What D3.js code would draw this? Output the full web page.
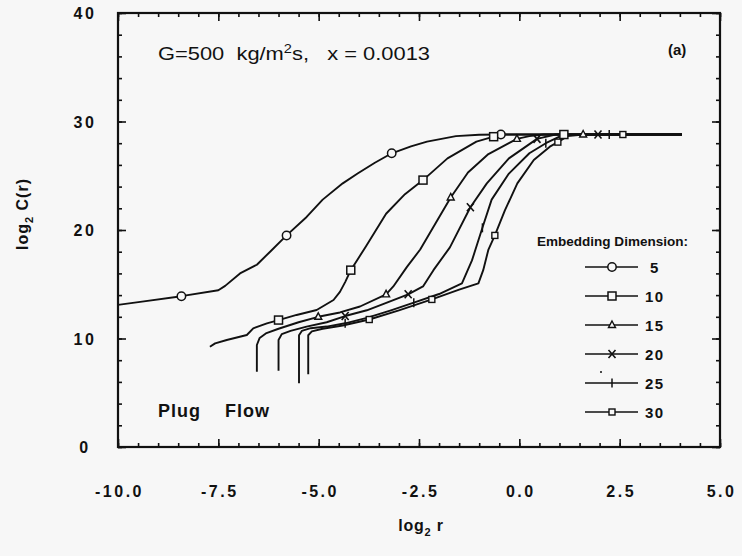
<!DOCTYPE html>
<html><head><meta charset="utf-8">
<script src="https://cdn.jsdelivr.net/npm/d3@7"></script>
<style>
html,body{margin:0;padding:0;background:#f7f7f7;}
svg{display:block;font-family:"Liberation Sans",Arial,Helvetica,sans-serif;}
</style></head><body>
<svg id="c" width="742" height="556"></svg>
<script>
// ---- data ----
const xMajorTicks = [-10, -7.5, -5, -2.5, 0, 2.5, 5];
const xTickLabels = ["-10.0", "-7.5", "-5.0", "-2.5", "0.0", "2.5", "5.0"];
const yMajorTicks = [0, 10, 20, 30, 40];
const yTickLabels = ["0", "10", "20", "30", "40"];
const xMinorTicks = d3.range(-10, 5.01, 0.5);
const yMinorTicks = d3.range(0, 40.01, 2);

const dimensions = ["5", "10", "15", "20", "25", "30"];
const markerTypes = ["circle", "square", "triangle", "x", "plus", "smallsq"];

const curve5 = [[-10,13.1],[-9.4,13.4],[-8.42,13.9],[-7.5,14.45],[-7.33,14.85],[-6.96,16.0],[-6.54,16.8],[-6.21,18.0],[-5.8,19.5],[-5.3,21.2],[-4.9,22.8],[-4.4,24.3],[-4.03,25.2],[-3.6,26.2],[-3.18,27.07],[-2.7,27.7],[-2.3,28.14],[-1.58,28.65],[-1.0,28.78],[-0.46,28.8],[4.05,28.8]];
const curve10 = [[-7.71,9.24],[-7.58,9.55],[-7.29,9.86],[-6.79,10.32],[-6.63,10.94],[-6.29,11.4],[-6.0,11.7],[-5.55,12.17],[-5.05,12.63],[-4.63,13.55],[-4.47,14.3],[-4.34,15.2],[-4.2,16.3],[-3.82,18.5],[-3.32,21.5],[-2.85,23.3],[-2.4,24.6],[-1.79,26.6],[-1.07,28.14],[-0.64,28.6],[-0.36,28.8],[4.05,28.8]];
const curve15 = [[-6.54,6.93],[-6.54,9.4],[-6.47,10.05],[-6.3,10.5],[-6.0,10.9],[-5.5,11.5],[-5.01,12.0],[-4.47,12.4],[-3.97,12.95],[-3.32,14.07],[-3.14,14.8],[-2.8,16.6],[-2.47,18.2],[-2.2,19.9],[-1.71,23.0],[-1.28,25.3],[-0.77,27.0],[-0.26,28.0],[-0.06,28.4],[0.25,28.65],[0.6,28.8],[4.05,28.8]];
const curve20 = [[-6.0,7.03],[-6.0,9.86],[-5.92,10.4],[-5.7,10.7],[-5.3,11.1],[-4.8,11.5],[-4.34,12.07],[-3.8,12.6],[-3.3,13.3],[-2.77,14.07],[-2.4,14.8],[-2.14,16.3],[-1.73,18.4],[-1.22,22.1],[-0.81,24.3],[-0.26,26.6],[0.44,28.4],[0.9,28.8],[4.05,28.8]];
const curve25 = [[-5.49,5.87],[-5.49,10.3],[-5.42,10.7],[-5.2,10.95],[-4.8,11.1],[-4.34,11.4],[-3.8,11.9],[-3.2,12.6],[-2.63,13.3],[-2.0,14.1],[-1.43,15.08],[-1.18,17.2],[-0.92,20.2],[-0.69,22.8],[-0.26,25.2],[0.25,27.07],[0.66,28.0],[1.0,28.6],[1.3,28.8],[4.05,28.8]];
const curve30 = [[-5.26,6.7],[-5.26,10.3],[-5.17,10.65],[-4.9,10.9],[-4.4,11.2],[-3.74,11.75],[-3.0,12.6],[-2.18,13.6],[-1.5,14.5],[-1.02,15.08],[-0.9,16.3],[-0.77,18.2],[-0.61,19.5],[-0.36,21.8],[-0.05,24.3],[0.36,26.45],[0.76,27.68],[0.96,28.1],[1.2,28.65],[1.6,28.8],[4.05,28.8]];

const markers5 = [[-8.42,13.9],[-5.8,19.5],[-3.18,27.07],[-0.46,28.8]];
const markers10 = [[-6.0,11.7],[-4.2,16.3],[-2.4,24.6],[-0.64,28.6],[1.11,28.8]];
const markers15 = [[-5.01,12.0],[-3.32,14.07],[-1.71,23.0],[-0.06,28.4],[1.59,28.8]];
const markers20 = [[-4.34,12.07],[-2.77,14.07],[-1.22,22.1],[0.44,28.4],[1.96,28.8]];
const markers25 = [[-4.34,11.4],[-2.63,13.3],[-0.92,20.2],[0.66,28.0],[2.24,28.8]];
const markers30 = [[-3.74,11.75],[-2.18,13.6],[-0.61,19.5],[0.96,28.1],[2.58,28.8]];

const curves = [curve5, curve10, curve15, curve20, curve25, curve30];
const markerSets = [markers5, markers10, markers15, markers20, markers25, markers30];

// ---- layout ----
const svg = d3.select("#c");
const L = 118, R = 720, T = 13, B = 447;
const x = d3.scaleLinear().domain([-10, 5]).range([L, R]);
const y = d3.scaleLinear().domain([0, 40]).range([B, T]);
const ink = "#111";

// axes (ticks inward)
function axisG(gen, tr) { return svg.append("g").attr("transform", tr).call(gen); }
const fmtNone = () => "";
[[d3.axisBottom(x), `translate(0,${B})`, xMajorTicks, xMinorTicks],
 [d3.axisTop(x), `translate(0,${T})`, xMajorTicks, xMinorTicks],
 [d3.axisLeft(y), `translate(${L},0)`, yMajorTicks, yMinorTicks],
 [d3.axisRight(y), `translate(${R},0)`, yMajorTicks, yMinorTicks]].forEach(([gen, tr, maj, min]) => {
  const gMin = axisG(gen.tickValues(min).tickSize(-4).tickFormat(fmtNone), tr);
  const gMaj = axisG(gen.tickValues(maj).tickSize(-8).tickFormat(fmtNone), tr);
  [gMin, gMaj].forEach(g => {
    g.select(".domain").remove();
    g.selectAll("line").attr("stroke", ink).attr("stroke-width", 1.6);
    g.selectAll("text").remove();
  });
});
svg.append("rect").attr("x", L).attr("y", T).attr("width", R - L).attr("height", B - T)
  .attr("fill", "none").attr("stroke", ink).attr("stroke-width", 2.2);

// tick labels
svg.append("g").selectAll("text").data(xMajorTicks).join("text")
  .attr("x", d => x(d) + 1.5).attr("y", 497).attr("text-anchor", "middle")
  .attr("font-size", 16).attr("font-weight", "bold").attr("letter-spacing", 2.5).attr("fill", ink)
  .text((d, i) => xTickLabels[i]);
svg.append("g").selectAll("text").data(yMajorTicks).join("text")
  .attr("x", 85).attr("y", d => y(d) + 6).attr("text-anchor", "middle")
  .attr("font-size", 16).attr("font-weight", "bold").attr("letter-spacing", 2.5).attr("fill", ink)
  .text((d, i) => yTickLabels[i]);

// axis titles
const xt = svg.append("text").attr("x", 421).attr("y", 531).attr("text-anchor", "middle")
  .attr("font-size", 16).attr("font-weight", "bold").attr("letter-spacing", 0.8).attr("fill", ink);
xt.append("tspan").text("log");
xt.append("tspan").attr("font-size", 11).attr("dy", 5).text("2");
xt.append("tspan").attr("dy", -5).text(" r");
const yt = svg.append("text").attr("transform", "translate(28,214) rotate(-90)").attr("text-anchor", "middle")
  .attr("font-size", 16).attr("font-weight", "bold").attr("letter-spacing", 1).attr("fill", ink);
yt.append("tspan").text("log");
yt.append("tspan").attr("font-size", 11).attr("dy", 5).text("2");
yt.append("tspan").attr("dy", -5).text(" C(r)");

// annotations
const ann = svg.append("text").attr("x", 158).attr("y", 60).attr("font-size", 18).attr("fill", ink)
  .attr("font-family", "'Liberation Sans Narrow','Arial Narrow','Liberation Sans',sans-serif")
  .attr("xml:space", "preserve")
  .attr("textLength", 272).attr("lengthAdjust", "spacingAndGlyphs");
ann.append("tspan").text("G=500  kg/m");
ann.append("tspan").attr("font-size", 12).attr("dy", -7).text("2");
ann.append("tspan").attr("dy", 7).text("s,   x = 0.0013");
svg.append("text").attr("x", 668).attr("y", 55).attr("font-size", 15).attr("font-weight", "bold")
  .attr("fill", ink).text("(a)");
svg.append("text").attr("x", 158).attr("y", 417).attr("font-size", 18).attr("font-weight", "bold")
  .attr("letter-spacing", 1).attr("fill", ink).text("Plug");
svg.append("text").attr("x", 225).attr("y", 417).attr("font-size", 18).attr("font-weight", "bold")
  .attr("letter-spacing", 1).attr("fill", ink).text("Flow");

// curves
const line = d3.line().x(d => x(d[0])).y(d => y(d[1]));
svg.append("g").selectAll("path").data(curves).join("path")
  .attr("d", line).attr("fill", "none").attr("stroke", ink).attr("stroke-width", 1.9)
  .attr("stroke-linejoin", "round");

// marker drawing
function drawMarker(g, type, cx, cy) {
  const bg = "#f7f7f7";
  if (type === "circle") g.append("circle").attr("cx", cx).attr("cy", cy).attr("r", 4.2).attr("fill", bg).attr("stroke", ink).attr("stroke-width", 1.5);
  else if (type === "square") g.append("rect").attr("x", cx - 4).attr("y", cy - 4).attr("width", 8).attr("height", 8).attr("fill", bg).attr("stroke", ink).attr("stroke-width", 1.5);
  else if (type === "triangle") g.append("path").attr("d", `M${cx},${cy - 4}L${cx + 3.5},${cy + 2.5}L${cx - 3.5},${cy + 2.5}Z`).attr("fill", bg).attr("stroke", ink).attr("stroke-width", 1.4);
  else if (type === "x") g.append("path").attr("d", `M${cx - 3.5},${cy - 4}L${cx + 3.5},${cy + 4}M${cx + 3.5},${cy - 4}L${cx - 3.5},${cy + 4}`).attr("stroke", ink).attr("stroke-width", 1.6);
  else if (type === "plus") g.append("path").attr("d", `M${cx},${cy - 4.5}L${cx},${cy + 4.5}`).attr("stroke", ink).attr("stroke-width", 1.5);
  else if (type === "smallsq") g.append("rect").attr("x", cx - 3).attr("y", cy - 3).attr("width", 6).attr("height", 6).attr("fill", bg).attr("stroke", ink).attr("stroke-width", 1.4);
}
const mg = svg.append("g");
markerSets.forEach((ms, i) => ms.forEach(p => drawMarker(mg, markerTypes[i], x(p[0]), y(p[1]))));

// legend
svg.append("text").attr("x", 537).attr("y", 246).attr("font-size", 13).attr("font-weight", "bold")
  .attr("font-family", "'Liberation Sans Narrow','Arial Narrow',sans-serif")
  .attr("textLength", 151).attr("lengthAdjust", "spacingAndGlyphs")
  .attr("fill", ink).text("Embedding Dimension:");
const legY = [267, 296, 325, 354, 383, 412];
const lg = svg.append("g");
dimensions.forEach((d, i) => {
  lg.append("line").attr("x1", 585).attr("x2", 638).attr("y1", legY[i]).attr("y2", legY[i])
    .attr("stroke", ink).attr("stroke-width", 1.6);
  drawMarker(lg, markerTypes[i], 612, legY[i]);
  lg.append("text").attr("x", d.length === 1 ? 650 : 645).attr("y", legY[i] + 5.5).attr("font-size", 15).attr("font-weight", "bold")
    .attr("fill", ink).attr("letter-spacing", 1.5).text(d);
});
lg.append("circle").attr("cx", 601).attr("cy", 372).attr("r", 1).attr("fill", ink);
</script>
</body></html>
